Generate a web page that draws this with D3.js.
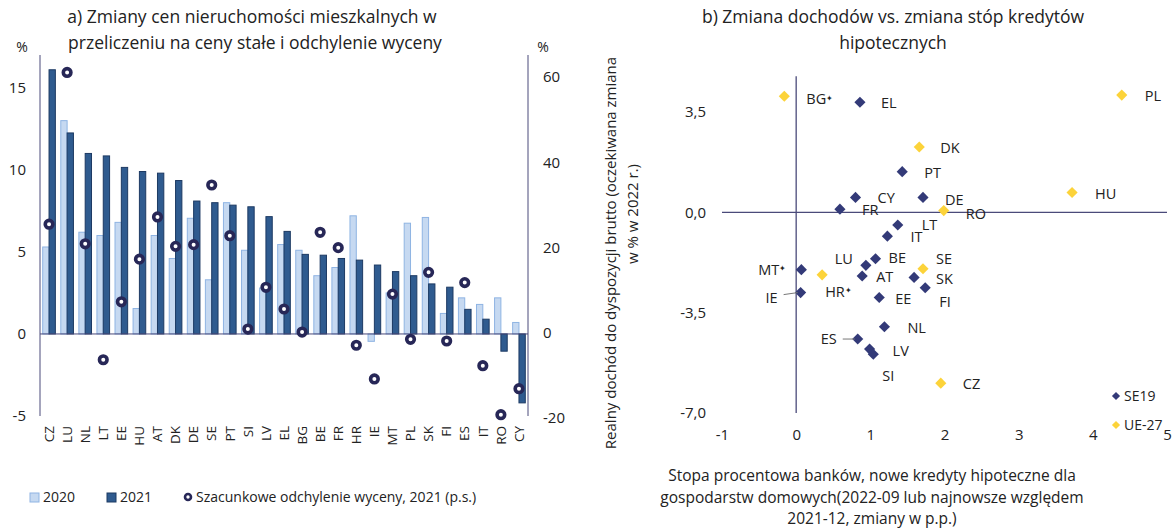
<!DOCTYPE html>
<html>
<head>
<meta charset="utf-8">
<script src="https://cdn.jsdelivr.net/npm/d3@7"></script>
<style>
  body { margin: 0; background: #fff; }
  text { font-family: "Open Sans", "Liberation Sans", Arial, sans-serif; fill: #222; }
</style>
</head>
<body>
<svg id="chart" width="1173" height="529"></svg>
<script>
// panel a) data
var countries = ["CZ","LU","NL","LT","EE","HU","AT","DK","DE","SE","PT","SI","LV","EL","BG","BE","FR","HR","IE","MT","PL","SK","FI","ES","IT","RO","CY"];
var values2020 = [5.3, 13.0, 6.2, 6.0, 6.8, 1.55, 6.0, 4.6, 7.05, 3.3, 8.0, 5.1, 2.8, 5.45, 5.1, 3.55, 4.05, 7.2, -0.45, 2.5, 6.75, 7.1, 1.25, 2.2, 1.8, 2.2, 0.7];
var values2021 = [16.1, 12.25, 11.0, 10.85, 10.15, 9.9, 9.8, 9.35, 8.1, 8.0, 7.85, 7.75, 7.15, 6.25, 4.85, 4.8, 4.6, 4.5, 4.2, 3.8, 3.55, 3.05, 2.85, 1.5, 0.9, -1.05, -4.2];
var valuation = [25.5, 61.1, 20.9, -6.3, 7.3, 17.3, 27.2, 20.3, 20.7, 34.7, 22.8, 0.9, 10.7, 5.6, 0.2, 23.6, 20.0, -2.9, -10.8, 9.1, -1.5, 14.2, -1.9, 11.8, -7.7, -19.2, -13.1];
var leftTicks = [-5, 0, 5, 10, 15];
var rightTicks = [-20, 0, 20, 40, 60];

// panel b) data
var scatterNames = ["BG","EL","DK","PT","CY","DE","FR","RO","LT","IT","BE","LU","AT","SE","SK","FI","EE","MT","HR","IE","NL","ES","LV","SI","CZ","PL","HU"];
var rateChange = [-0.16, 0.86, 1.66, 1.43, 0.80, 1.71, 0.59, 1.99, 1.37, 1.23, 1.07, 0.94, 0.89, 1.71, 1.59, 1.74, 1.12, 0.07, 0.35, 0.06, 1.19, 0.83, 0.99, 1.04, 1.95, 4.39, 3.72];
var incomeChange = [4.05, 3.84, 2.28, 1.42, 0.52, 0.52, 0.11, 0.06, -0.44, -0.83, -1.62, -1.85, -2.22, -1.97, -2.27, -2.63, -2.97, -2.0, -2.18, -2.80, -3.99, -4.42, -4.77, -4.95, -5.96, 4.09, 0.69];
var scatterGroup = ["UE-27","SE19","UE-27","SE19","SE19","SE19","SE19","UE-27","SE19","SE19","SE19","SE19","SE19","UE-27","SE19","SE19","SE19","SE19","UE-27","SE19","SE19","SE19","SE19","SE19","UE-27","UE-27","UE-27"];
var starred = ["BG","MT","HR"];
var xTicksB = [-1, 0, 1, 2, 3, 4, 5];
var yTicksB = [-7, -3.5, 0, 3.5];

// label placement for panel b) (pixels from the point)
var labelPos = {
  BG: [22, 3, "start"], EL: [21, 1, "start"], DK: [21, 1, "start"], PT: [22, 1, "start"],
  CY: [22, 0, "start"], DE: [22, 2, "start"], FR: [22, 1, "start"], RO: [22, 3, "start"],
  LT: [24, 0, "start"], IT: [23, 1, "start"], BE: [13, -1, "start"], LU: [-13, -6, "end"],
  AT: [14, 1, "start"], SE: [13, -10, "start"], SK: [22, 2, "start"], FI: [14, 14, "start"],
  EE: [16, 1, "start"], MT: [-15, 0, "end"], HR: [3, 17, "start"], IE: [-23, 5, "end"],
  NL: [23, 1, "start"], ES: [-21, 0, "end"], LV: [23, 2, "start"], SI: [9, 22, "start"],
  CZ: [22, 1, "start"], PL: [23, 1, "start"], HU: [23, 1, "start"]
};
var leaders = ["IE", "ES"];

var light = "#c6d9f1", lightStroke = "#8fb4e3";
var dark = "#2f5b8f", darkStroke = "#1d3a63";
var navy = "#333a78", yellow = "#fcd33a";
var axisColor = "#4a4a7a";
var hyphen = function (f) { return function (v) { return f(v).replace("\u2212", "-"); }; };

var svg = d3.select("#chart");

// ---------- panel a ----------
var x0 = d3.scaleBand().domain(countries).range([40, 528]).paddingInner(0.3).paddingOuter(0.15);
var x1 = d3.scaleBand().domain(["2020", "2021"]).range([0, x0.bandwidth()]);
var yL = d3.scaleLinear().domain([-5, 17]).range([416, 55]);
var yR = d3.scaleLinear().domain([-19.5, 65.2]).range([416, 55]);

var gA = svg.append("g");

gA.append("g").selectAll("rect")
  .data(countries)
  .join("rect")
  .attr("x", function (d) { return x0(d) + x1("2020"); })
  .attr("y", function (d, i) { return yL(Math.max(0, values2020[i])); })
  .attr("width", x1.bandwidth())
  .attr("height", function (d, i) { return Math.abs(yL(values2020[i]) - yL(0)); })
  .attr("fill", light).attr("stroke", lightStroke).attr("stroke-width", 1);

gA.append("g").selectAll("rect")
  .data(countries)
  .join("rect")
  .attr("x", function (d) { return x0(d) + x1("2021"); })
  .attr("y", function (d, i) { return yL(Math.max(0, values2021[i])); })
  .attr("width", x1.bandwidth())
  .attr("height", function (d, i) { return Math.abs(yL(values2021[i]) - yL(0)); })
  .attr("fill", dark).attr("stroke", darkStroke).attr("stroke-width", 1);

// axes lines
gA.append("line").attr("x1", 40).attr("x2", 528).attr("y1", yL(0)).attr("y2", yL(0)).attr("stroke", axisColor);
gA.append("line").attr("x1", 40).attr("x2", 40).attr("y1", 55).attr("y2", 416).attr("stroke", axisColor);
gA.append("line").attr("x1", 528).attr("x2", 528).attr("y1", 55).attr("y2", 416).attr("stroke", axisColor);

// valuation dots
gA.append("g").selectAll("circle")
  .data(countries)
  .join("circle")
  .attr("cx", function (d) { return x0(d) + x0.bandwidth() / 2; })
  .attr("cy", function (d, i) { return yR(valuation[i]); })
  .attr("r", 3.8)
  .attr("fill", "#fff").attr("stroke", "#272757").attr("stroke-width", 3.6);

// left / right axes
var axL = gA.append("g").attr("transform", "translate(40,0)")
  .call(d3.axisLeft(yL).tickValues(leftTicks).tickSize(0).tickPadding(14).tickFormat(hyphen(d3.format("d"))));
axL.select(".domain").remove();
axL.selectAll("text").style("font-size", "15px").attr("fill", "#222");

var axR = gA.append("g").attr("transform", "translate(528,0)")
  .call(d3.axisRight(yR).tickValues(rightTicks).tickSize(0).tickPadding(15).tickFormat(hyphen(d3.format("d"))));
axR.select(".domain").remove();
axR.selectAll("text").style("font-size", "15px").attr("fill", "#222");

// category labels
gA.append("g").selectAll("text")
  .data(countries)
  .join("text")
  .attr("transform", function (d) { return "translate(" + (x0(d) + x0.bandwidth() / 2) + ",426) rotate(-90)"; })
  .attr("text-anchor", "end").attr("dy", "0.35em")
  .style("font-size", "13.5px")
  .text(function (d) { return d; });

gA.append("text").attr("x", 22).attr("y", 52).attr("text-anchor", "middle").style("font-size", "14px").text("%");
gA.append("text").attr("x", 543).attr("y", 52).attr("text-anchor", "middle").style("font-size", "14px").text("%");

gA.append("text").attr("x", 252).attr("y", 23).attr("text-anchor", "middle").style("font-size", "17.5px")
  .text("a) Zmiany cen nieruchomości mieszkalnych w");
gA.append("text").attr("x", 255).attr("y", 49).attr("text-anchor", "middle").style("font-size", "17.5px")
  .text("przeliczeniu na ceny stałe i odchylenie wyceny");

// legend a
var legA = gA.append("g");
legA.append("rect").attr("x", 30).attr("y", 493).attr("width", 9).attr("height", 9).attr("fill", light).attr("stroke", lightStroke);
legA.append("text").attr("x", 43).attr("y", 497).attr("dy", "0.35em").style("font-size", "14px").text("2020");
legA.append("rect").attr("x", 107).attr("y", 493).attr("width", 9).attr("height", 9).attr("fill", dark).attr("stroke", darkStroke);
legA.append("text").attr("x", 120).attr("y", 497).attr("dy", "0.35em").style("font-size", "14px").text("2021");
legA.append("circle").attr("cx", 188).attr("cy", 497).attr("r", 3).attr("fill", "#fff").attr("stroke", "#272757").attr("stroke-width", 2.6);
legA.append("text").attr("x", 196).attr("y", 497).attr("dy", "0.35em").style("font-size", "14px")
  .text("Szacunkowe odchylenie wyceny, 2021 (p.s.)");

// ---------- panel b ----------
var xB = d3.scaleLinear().domain([-1, 5]).range([722, 1167]);
var yB = d3.scaleLinear().domain([-7, 3.5]).range([413, 112]);
var gB = svg.append("g");

gB.append("line").attr("x1", xB(-1)).attr("x2", xB(5)).attr("y1", yB(0)).attr("y2", yB(0)).attr("stroke", axisColor).attr("stroke-width", 1.3);
gB.append("line").attr("x1", xB(0)).attr("x2", xB(0)).attr("y1", yB(4.75)).attr("y2", yB(-7)).attr("stroke", axisColor).attr("stroke-width", 1.3);

var fmt = function (v) { return d3.format(".1f")(v).replace(".", ",").replace("\u2212", "-"); };
var axBx = gB.append("g").attr("transform", "translate(0," + yB(-7) + ")")
  .call(d3.axisBottom(xB).tickValues(xTicksB).tickSize(0).tickPadding(16).tickFormat(hyphen(d3.format("d"))));
axBx.select(".domain").remove();
axBx.selectAll("text").style("font-size", "15px").attr("fill", "#222");

var axBy = gB.append("g").attr("transform", "translate(" + xB(-1) + ",0)")
  .call(d3.axisLeft(yB).tickValues(yTicksB).tickSize(0).tickPadding(16).tickFormat(fmt));
axBy.select(".domain").remove();
axBy.selectAll("text").style("font-size", "15px").attr("fill", "#222");

var diamond = d3.symbol().type(d3.symbolSquare).size(62);

gB.append("g").selectAll("path")
  .data(scatterNames)
  .join("path")
  .attr("d", diamond)
  .attr("transform", function (d, i) { return "translate(" + xB(rateChange[i]) + "," + yB(incomeChange[i]) + ") rotate(45)"; })
  .attr("fill", function (d, i) { return scatterGroup[i] === "SE19" ? navy : yellow; });

var labs = gB.append("g").selectAll("text")
  .data(scatterNames)
  .join("text")
  .attr("x", function (d, i) { return xB(rateChange[i]) + labelPos[d][0]; })
  .attr("y", function (d, i) { return yB(incomeChange[i]) + labelPos[d][1]; })
  .attr("dy", "0.35em")
  .attr("text-anchor", function (d) { return labelPos[d][2]; })
  .style("font-size", "14.5px");
labs.append("tspan").text(function (d) { return d; });
labs.filter(function (d) { return starred.indexOf(d) >= 0; })
  .append("tspan").attr("dy", "-0.45em").style("font-size", "8px").text("✦");

// leader lines
leaders.forEach(function (name) {
  var i = scatterNames.indexOf(name);
  var px = xB(rateChange[i]), py = yB(incomeChange[i]);
  var lx = px + labelPos[name][0] + 6;
  gB.append("line").attr("x1", lx).attr("y1", py + labelPos[name][1] * 0.4)
    .attr("x2", px - 3).attr("y2", py).attr("stroke", "#777").attr("stroke-width", 1);
});

gB.append("text").attr("x", 893).attr("y", 23).attr("text-anchor", "middle").style("font-size", "17.5px")
  .text("b) Zmiana dochodów vs. zmiana stóp kredytów");
gB.append("text").attr("x", 893).attr("y", 49).attr("text-anchor", "middle").style("font-size", "17.5px")
  .text("hipotecznych");

gB.append("text").attr("transform", "translate(611,253) rotate(-90)").attr("text-anchor", "middle").attr("dy", "0.35em")
  .style("font-size", "15px").text("Realny dochód do dyspozycji brutto (oczekiwana zmiana");
gB.append("text").attr("transform", "translate(633,214) rotate(-90)").attr("text-anchor", "middle").attr("dy", "0.35em")
  .style("font-size", "15px").text("w % w 2022 r.)");

var xTitle = ["Stopa procentowa banków, nowe kredyty hipoteczne dla",
  "gospodarstw domowych(2022-09 lub najnowsze względem",
  "2021-12, zmiany w p.p.)"];
gB.append("g").selectAll("text").data(xTitle).join("text")
  .attr("x", 872).attr("y", function (d, i) { return 476 + i * 21.5; })
  .attr("dy", "0.35em").attr("text-anchor", "middle").style("font-size", "15.5px")
  .text(function (d) { return d; });

// legend b
var legB = gB.append("g");
[["SE19", navy, 396], ["UE-27", yellow, 425]].forEach(function (e) {
  legB.append("path").attr("d", d3.symbol().type(d3.symbolSquare).size(34))
    .attr("transform", "translate(1116," + e[2] + ") rotate(45)").attr("fill", e[1]);
  legB.append("text").attr("x", 1124).attr("y", e[2]).attr("dy", "0.35em").style("font-size", "14px").text(e[0]);
});
</script>
</body>
</html>
